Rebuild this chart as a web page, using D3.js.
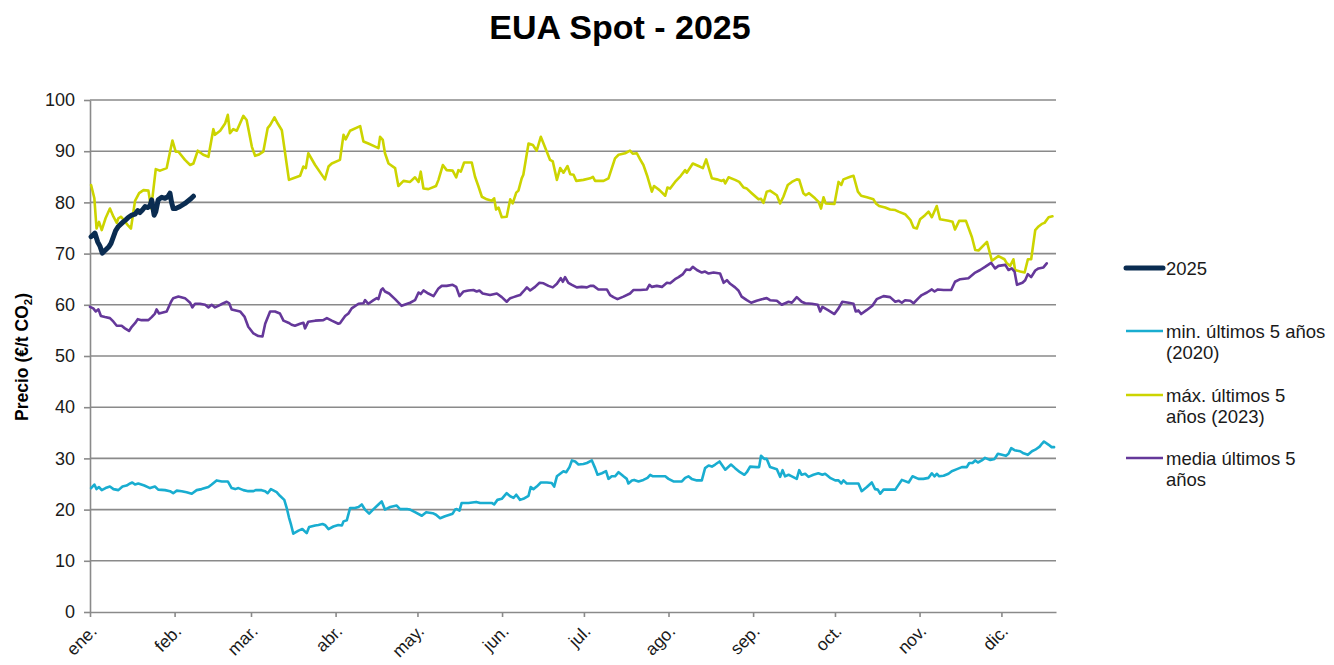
<!DOCTYPE html>
<html>
<head>
<meta charset="utf-8">
<script src="https://cdn.jsdelivr.net/npm/d3@7"></script>
<style>
  body { margin: 0; background: #fff; }
  svg { display: block; font-family: "Liberation Sans", Arial, sans-serif; }
</style>
</head>
<body>
<div id="chart"></div>
<script>
// eje x: día del año (0 = 1 de enero)
const meses = ['ene.', 'feb.', 'mar.', 'abr.', 'may.', 'jun.', 'jul.', 'ago.', 'sep.', 'oct.', 'nov.', 'dic.'];
const inicioMes = [0, 31, 59, 90, 120, 151, 181, 212, 243, 273, 304, 334];
const ticksPrecio = [0, 10, 20, 30, 40, 50, 60, 70, 80, 90, 100];

// 2025
const dias2025 = [0.4, 1.8, 2.8, 3.7, 4.5, 5.5, 7.0, 7.7, 8.6, 9.4, 10.4, 11.4, 12.2, 13.1, 14.1, 15.3, 16.5, 17.5, 18.3, 19.2,
  20.2, 21.1, 22.0, 22.6, 23.5, 24.1, 25.0, 26.3, 27.5, 28.5, 29.3, 29.9, 30.5, 31.4, 33.0, 34.8, 36.7, 37.9];
const precio2025 = [73.3, 74.0, 72.3, 71.4, 70.1, 70.6, 71.4, 72.0, 73.3, 74.5, 75.3, 75.8, 76.2, 76.6, 77.1, 77.5, 77.7, 78.4, 78.0, 78.5,
  79.2, 79.0, 79.3, 80.5, 77.5, 78.2, 80.5, 81.0, 80.8, 81.1, 81.8, 80.0, 78.8, 78.8, 79.2, 79.8, 80.6, 81.2];

// min. últimos 5 años (2020)
const diasMin = [0.4, 1.6, 2.4, 3.3, 4.3, 5.7, 7.3, 8.6, 10.4, 11.9, 13.4, 14.7, 15.5, 16.5, 17.7, 19.9, 22.0, 23.8, 25.0, 27.5,
  29.3, 30.5, 31.8, 33.6, 35.4, 37.3, 39.1, 40.9, 43.4, 44.6, 46.4, 48.3, 50.5, 51.9, 53.2, 54.4, 56.2, 58.0, 59.9, 60.7,
  62.9, 64.2, 65.1, 66.3, 68.4, 69.6, 71.2, 72.1, 72.9, 73.7, 74.5, 76.4, 77.8, 79.4, 80.3, 82.5, 83.7, 85.2, 86.1, 87.4,
  89.2, 91.0, 92.3, 92.9, 94.1, 95.3, 97.1, 98.4, 99.6, 100.8, 102.3, 103.9, 105.7, 106.9, 108.1, 110.0, 112.4, 113.6, 116.1,
  117.3, 119.1, 121.6, 123.2, 125.6, 126.8, 128.3, 130.1, 132.9, 133.8, 134.4, 135.4, 136.2, 138.7, 141.5, 143.0, 147.2, 148.1, 149.3, 150.9,
  152.7, 154.0, 155.2, 156.2, 157.6, 158.8, 160.7, 161.5, 162.5, 163.7, 165.2, 167.4, 169.2, 170.1, 171.1, 172.3, 173.5, 174.5, 175.7, 176.6,
  177.8, 179.0, 180.8, 182.1, 183.9, 185.1, 186.0, 187.6, 189.1, 190.0, 191.2, 192.4, 193.7, 195.5, 196.7, 197.3, 198.6, 199.4, 201.0, 202.8,
  204.3, 205.3, 206.3, 208.3, 210.8, 212.0, 213.8, 216.9, 218.1, 219.3, 220.5, 222.4, 224.2, 225.4, 226.7, 227.9, 229.1, 230.7, 232.8, 234.9,
  236.4, 238.2, 239.8, 240.7, 241.9, 244.3, 245.2, 245.9, 247.2, 248.0, 249.2, 251.7, 252.9, 253.8, 254.7, 256.0, 257.2, 259.0, 259.9, 260.8,
  262.1, 263.3, 265.1, 266.9, 268.4, 269.4, 271.2, 273.1, 274.3, 275.3, 276.1, 277.3, 279.8, 281.6, 282.8, 284.7, 286.5, 287.7, 288.7, 289.6,
  290.8, 295.1, 297.5, 300.0, 301.4, 303.6, 305.4, 307.3, 308.5, 309.5, 310.3, 311.2, 312.8, 314.6, 315.8, 317.7, 319.5, 321.3, 322.2, 323.4,
  324.4, 325.4, 326.8, 328.0, 329.9, 331.5, 332.7, 334.2, 335.6, 336.6, 337.6, 338.8, 340.9, 342.1, 343.7, 345.2, 346.4, 348.0, 348.9, 349.6,
  351.2, 352.4, 353.3];
const precioMin = [24.2, 24.9, 24.0, 24.4, 23.8, 24.2, 24.5, 24.0, 23.8, 24.5, 24.7, 25.1, 25.3, 24.9, 25.1, 24.7, 24.2, 24.5, 23.9, 23.8,
  23.6, 23.2, 23.7, 23.6, 23.4, 23.1, 23.8, 24.0, 24.4, 24.9, 25.7, 25.5, 25.5, 24.2, 24.0, 24.2, 23.8, 23.6, 23.6, 23.8,
  23.8, 23.6, 23.2, 24.0, 23.4, 22.7, 21.9, 20.3, 18.5, 17.0, 15.3, 15.9, 16.2, 15.4, 16.6, 16.9, 17.0, 17.2, 17.0, 16.2,
  16.7, 17.0, 16.9, 17.7, 17.9, 20.3, 20.3, 20.5, 21.0, 20.0, 19.2, 20.1, 21.0, 21.6, 20.0, 20.5, 20.8, 20.1, 20.1,
  20.0, 19.5, 18.8, 19.5, 19.3, 19.0, 18.3, 18.7, 19.2, 20.0, 20.1, 19.8, 21.3, 21.3, 21.5, 21.3, 21.3, 21.0, 21.9, 22.1,
  23.2, 22.6, 22.3, 22.9, 21.9, 22.1, 22.7, 24.4, 24.0, 24.5, 25.3, 25.3, 25.2, 24.5, 26.5, 27.0, 27.5, 27.3, 28.3, 29.6,
  29.4, 28.8, 28.9, 29.1, 29.6, 28.1, 26.8, 27.1, 27.5, 26.0, 26.5, 26.5, 27.3, 26.5, 26.0, 25.1, 25.7, 25.8, 25.5, 25.8,
  26.2, 26.8, 26.5, 26.5, 26.5, 26.0, 25.5, 25.5, 26.2, 26.5, 26.0, 25.7, 25.7, 28.1, 28.6, 28.4, 28.8, 29.4, 27.8, 28.8,
  28.1, 27.3, 26.8, 27.3, 28.4, 28.3, 28.3, 30.5, 29.9, 29.9, 28.3, 27.9, 26.4, 27.7, 26.5, 26.8, 26.5, 26.0, 27.7, 26.8,
  27.0, 26.4, 26.8, 27.1, 26.8, 27.0, 26.2, 25.7, 25.7, 25.1, 25.7, 25.1, 25.1, 25.1, 23.6, 24.4, 25.3, 24.0, 23.9, 23.1,
  23.9, 23.9, 25.8, 25.3, 26.5, 26.0, 26.0, 26.2, 27.1, 26.5, 27.0, 26.5, 26.6, 27.0, 27.5, 27.9, 28.3, 28.3, 29.1, 29.1,
  29.6, 29.2, 29.6, 30.1, 29.7, 29.9, 30.9, 30.7, 30.5, 30.9, 32.0, 31.6, 31.4, 31.0, 30.7, 31.4, 31.7, 32.3, 32.9, 33.3,
  32.7, 32.2, 32.2];

// máx. últimos 5 años (2023)
const diasMax = [0.4, 1.6, 2.4, 3.3, 4.3, 5.7, 7.3, 8.6, 9.8, 10.4, 11.4, 12.6, 14.1, 15.0, 16.5, 18.0, 19.6, 21.4, 22.4, 24.1,
  25.7, 28.1, 30.2, 31.4, 32.4, 34.8, 36.7, 37.9, 39.5, 41.5, 43.4, 45.2, 45.8, 47.7, 49.5, 50.5, 51.3, 52.5, 53.8, 56.2,
  57.4, 59.3, 60.5, 61.7, 63.5, 65.1, 66.0, 67.6, 68.8, 70.3, 72.9, 74.5, 77.0, 78.2, 79.1, 80.0, 82.5, 86.1, 87.4, 88.6,
  91.6, 92.9, 93.7, 95.3, 99.0, 100.2, 102.0, 104.5, 105.7, 106.3, 107.3, 108.1, 109.4, 111.8, 113.0, 114.9,
  117.3, 119.1, 120.4, 121.2, 122.2, 124.0, 126.8, 127.7, 129.3, 130.7, 132.9, 134.2, 135.0, 135.9, 137.1, 139.9, 141.1, 142.3, 143.6, 145.4,
  147.2, 148.1, 148.8, 149.7, 150.9, 152.7, 154.0, 154.9, 156.2, 157.0, 158.2, 158.8, 160.7, 162.3, 163.7, 165.2, 166.2, 167.4, 168.6, 169.6,
  171.1, 172.3, 173.5, 175.0, 176.0, 177.2, 178.2, 180.8, 183.3, 184.3, 185.1, 188.2, 190.0, 192.4, 193.7, 196.1, 197.9, 198.9, 200.4, 201.6,
  202.8, 204.3, 205.9, 206.7, 208.7, 210.8, 211.6, 212.6, 214.4, 216.5, 218.1, 218.7, 220.9, 223.0, 224.6, 225.8, 227.9, 229.7, 231.5, 232.2,
  232.8, 234.0,
  236.4, 237.9, 239.5, 240.7, 242.5, 245.0, 245.9, 246.8, 248.0, 249.2, 251.7, 252.9, 254.1, 255.7, 257.2, 259.0, 259.9, 261.4, 262.3, 263.5,
  265.7, 267.0, 267.9, 268.8, 269.6, 272.8, 274.3, 275.3, 276.1, 278.6, 279.8, 281.4, 282.6, 284.7, 287.1, 288.0, 289.2, 291.4, 293.2, 295.1,
  296.3, 298.7, 300.6, 301.8, 303.0, 304.2, 306.0, 307.3, 308.5, 310.3, 311.5, 314.6, 316.1, 317.0, 318.5, 321.0, 323.2, 324.4, 325.6, 328.7,
  330.5, 332.9, 335.1, 336.0, 337.2, 338.4, 339.0, 340.9, 342.5, 343.7, 344.9, 346.4, 347.6, 348.8, 349.8, 351.3, 352.7];
const precioMax = [83.4, 80.8, 74.9, 76.2, 74.6, 76.9, 78.8, 77.2, 76.0, 76.9, 77.2, 76.4, 75.4, 74.9, 80.3, 81.8, 82.4, 82.3, 78.8, 86.5,
  86.2, 86.7, 92.1, 89.9, 89.9, 88.3, 87.3, 87.6, 90.1, 89.3, 88.9, 94.3, 93.2, 94.0, 95.4, 97.1, 93.5, 94.3, 94.0, 96.9,
  96.1, 90.9, 89.1, 89.3, 89.9, 94.5, 95.1, 96.6, 95.4, 94.1, 84.4, 84.7, 85.2, 87.0, 86.7, 89.6, 87.3, 84.5, 87.0, 87.6,
  88.3, 93.2, 92.3, 94.0, 94.9, 91.9, 91.5, 90.9, 90.6, 92.8, 92.2, 89.6, 87.6, 86.7, 83.2, 84.2,
  84.0, 84.9, 84.0, 86.0, 82.7, 82.6, 83.2, 84.4, 87.3, 86.3, 86.2, 84.9, 86.3, 86.0, 87.8, 87.8, 85.0, 83.2, 81.1, 80.6,
  80.3, 80.8, 78.6, 79.0, 77.1, 77.2, 80.6, 79.8, 81.9, 82.3, 84.7, 85.4, 91.5, 91.2, 90.1, 92.8, 91.5, 89.9, 88.3, 88.0,
  84.4, 86.7, 85.8, 87.1, 85.5, 85.4, 84.2, 84.4, 84.7, 85.0, 84.2, 84.2, 84.7, 88.6, 89.3, 89.6, 90.1, 89.5, 89.6, 88.4,
  87.3, 85.0, 82.1, 83.2, 82.4, 81.3, 82.9, 82.7, 84.0, 85.2, 86.3, 85.8, 87.6, 87.1, 86.7, 88.4, 84.7, 84.5, 84.2, 84.4,
  83.7, 84.9,
  84.4, 84.0, 82.9, 82.7, 81.8, 80.6, 80.7, 79.9, 82.1, 82.3, 81.4, 79.8, 81.1, 83.4, 84.0, 84.5, 84.4, 81.8, 81.4, 81.8,
  80.8, 80.1, 78.8, 81.0, 79.8, 79.7, 84.0, 83.4, 84.5, 85.0, 85.2, 82.1, 81.3, 81.0, 80.6, 79.8, 79.3, 79.0, 78.6, 78.5,
  78.2, 77.7, 76.6, 75.1, 74.9, 76.7, 77.5, 78.2, 77.1, 79.3, 76.7, 76.4, 76.2, 74.7, 76.4, 76.4, 73.2, 70.7, 70.6, 72.3,
  68.6, 69.5, 68.9, 68.1, 67.6, 68.9, 66.8, 66.5, 66.3, 68.9, 68.9, 74.6, 75.3, 75.8, 76.0, 77.1, 77.3];

// media últimos 5 años
const diasMedia = [0, 1.2, 2.1, 3.1, 4.0, 5.5, 7.3, 8.6, 9.8, 11.6, 12.8, 14.3, 15.3, 16.5, 17.5, 18.9, 21.4, 22.6, 23.8, 24.4,
  25.3, 28.1, 29.7, 30.5, 32.4, 34.8, 36.7, 37.5, 38.5, 40.3, 42.2, 43.4, 44.6, 45.8, 47.0, 48.5, 50.1, 51.0, 51.9, 55.0,
  56.6, 58.0, 59.9, 61.7, 63.2, 64.2, 66.0, 67.8, 69.6, 70.9, 72.7, 73.9, 75.1, 77.0, 78.2, 78.8, 80.0, 82.5, 85.5, 86.8,
  88.6, 91.0, 91.6, 93.5, 94.7, 95.9, 98.4, 100.2, 100.8, 102.0, 103.9, 105.1, 105.7, 106.7, 107.3, 108.1, 109.6, 111.8, 114.2,
  117.3, 119.1, 120.4, 121.2, 122.2, 124.0, 125.9, 127.7, 128.9, 130.7, 132.9, 134.2, 135.4, 136.9, 138.7, 140.5, 141.7, 142.7, 143.9, 146.6,
  149.1, 150.9, 152.7, 154.0, 155.2, 156.4, 157.6, 158.8, 160.1, 161.3, 163.1, 164.7, 166.2, 168.0, 169.6, 171.1, 172.5, 173.3, 174.1, 175.3,
  176.6, 178.4, 180.2, 182.1, 183.3, 184.5, 186.3, 188.2, 189.4, 190.6, 191.8, 193.3, 195.5, 197.9, 199.2, 201.6, 204.1, 205.0, 205.9, 207.7,
  209.6, 211.4, 212.6, 214.4, 215.7, 217.3, 218.5, 219.9, 220.9, 222.4, 224.2, 225.4, 226.7, 228.5, 230.9, 232.2, 233.4, 234.6,
  236.4, 237.6, 238.8, 240.7, 242.3, 244.3, 246.2, 248.0, 249.2, 251.7, 253.5, 256.0, 257.2, 259.0, 260.8, 262.1, 264.5, 266.7, 267.6, 268.4,
  270.6, 272.8, 274.3, 275.7, 278.0, 279.8, 280.6, 281.6, 282.6, 284.7, 286.7, 288.3, 290.8, 293.2, 295.1, 296.3, 297.5, 298.7, 300.6, 301.8,
  303.6, 304.8, 306.7, 308.5, 309.5, 310.7, 312.8, 315.6, 317.0, 318.9, 321.9, 324.4, 326.2, 328.0, 330.2, 331.7, 332.9, 335.4, 336.6, 337.8,
  338.8, 339.7, 341.7, 342.7, 343.7, 344.9, 346.4, 347.6, 349.4, 350.6];
const precioMedia = [59.6, 59.3, 58.7, 59.1, 57.8, 57.6, 57.4, 56.7, 55.9, 55.9, 55.4, 54.9, 55.7, 56.4, 57.2, 57.0, 57.0, 57.6, 58.3, 59.1,
  58.3, 58.7, 60.6, 61.3, 61.6, 61.3, 60.4, 59.5, 60.2, 60.2, 60.0, 59.5, 60.0, 59.5, 59.8, 60.2, 60.6, 60.3, 59.1, 58.7,
  57.7, 55.7, 54.4, 53.9, 53.8, 56.3, 58.7, 58.7, 58.3, 56.9, 56.5, 56.1, 55.9, 56.3, 56.5, 55.4, 56.7, 56.9, 57.0, 57.4,
  56.9, 56.3, 56.4, 57.8, 58.3, 59.3, 60.2, 60.3, 60.9, 60.2, 60.9, 61.3, 61.1, 62.9, 63.2, 62.6, 62.2, 61.1, 59.8,
  60.4, 60.9, 62.4, 62.1, 62.8, 62.2, 61.7, 63.2, 63.7, 63.7, 63.9, 63.5, 61.7, 62.6, 62.8, 62.9, 62.6, 62.8, 62.2, 61.9,
  62.2, 61.5, 60.6, 61.3, 61.5, 61.7, 61.9, 62.6, 63.4, 62.8, 63.5, 64.3, 64.2, 63.7, 63.4, 64.1, 65.2, 64.5, 65.4, 64.3,
  63.9, 63.4, 63.5, 63.4, 63.7, 63.7, 63.0, 63.0, 63.0, 61.9, 61.5, 61.1, 61.6, 62.2, 62.9, 62.9, 63.0, 63.9, 63.5, 63.7,
  63.5, 64.3, 64.2, 65.0, 65.4, 66.0, 66.9, 66.8, 67.4, 66.8, 66.3, 66.5, 66.1, 66.3, 66.1, 64.3, 64.8, 64.1,
  63.4, 62.8, 61.6, 60.9, 60.4, 60.8, 61.1, 61.3, 60.9, 60.8, 60.0, 60.6, 60.4, 61.5, 60.6, 60.3, 60.2, 60.0, 58.7, 59.6,
  58.9, 58.2, 59.3, 60.6, 60.4, 60.2, 58.7, 58.9, 58.2, 59.0, 59.8, 61.1, 61.7, 61.5, 60.6, 60.8, 60.4, 60.9, 60.8, 60.3,
  61.3, 61.9, 62.4, 63.0, 62.6, 63.0, 62.9, 62.9, 64.5, 65.0, 65.2, 66.3, 66.8, 67.4, 68.2, 67.1, 67.6, 67.8, 66.8, 67.1,
  66.5, 63.9, 64.3, 64.8, 66.0, 65.4, 66.7, 67.1, 67.3, 68.1];

const series = [
  {nombre: ['máx. últimos 5', 'años (2023)'], dias: diasMax, precios: precioMax, color: '#ccd400', grosor: 2.6},
  {nombre: ['media últimos 5', 'años'], dias: diasMedia, precios: precioMedia, color: '#65389a', grosor: 2.6},
  {nombre: ['min. últimos 5 años', '(2020)'], dias: diasMin, precios: precioMin, color: '#19add0', grosor: 2.6},
  {nombre: ['2025'], dias: dias2025, precios: precio2025, color: '#0a2c51', grosor: 5}
];
const ordenLeyenda = [3, 2, 0, 1];

const width = 1334;
const height = 665;
const margin = {top: 100, right: 278, bottom: 53, left: 90};

const x = d3.scaleLinear()
  .domain([0, 354])
  .range([margin.left, width - margin.right]);

const y = d3.scaleLinear()
  .domain([0, 100])
  .range([height - margin.bottom, margin.top]);

const svg = d3.select('#chart').append('svg')
  .attr('width', width)
  .attr('height', height);

// titulo
svg.append('text')
  .attr('x', 620)
  .attr('y', 39)
  .attr('text-anchor', 'middle')
  .attr('font-size', 34)
  .attr('font-weight', 'bold')
  .attr('fill', '#000')
  .text('EUA Spot - 2025');

// rejilla
svg.append('g')
  .selectAll('line')
  .data(ticksPrecio.filter(d => d > 0))
  .join('line')
  .attr('x1', x(0))
  .attr('x2', x(354))
  .attr('y1', d => y(d))
  .attr('y2', d => y(d))
  .attr('stroke', '#8a8a8a')
  .attr('stroke-width', 1.6);

// eje y
svg.append('g')
  .attr('transform', `translate(${x(0)},0)`)
  .call(d3.axisLeft(y).tickValues(ticksPrecio).tickSize(6).tickSizeOuter(0))
  .call(g => g.select('.domain').attr('stroke', '#8a8a8a').attr('stroke-width', 1.6))
  .call(g => g.selectAll('.tick line').attr('stroke', '#8a8a8a').attr('stroke-width', 1.6))
  .call(g => g.selectAll('.tick text')
    .attr('x', -15)
    .attr('font-size', 18)
    .attr('font-family', '"Liberation Sans", Arial, sans-serif')
    .attr('fill', '#1a1a1a'));

// eje x
svg.append('g')
  .attr('transform', `translate(0,${y(0)})`)
  .call(d3.axisBottom(x).tickValues(inicioMes).tickFormat((d, i) => meses[i]).tickSize(5).tickSizeOuter(0))
  .call(g => g.select('.domain').attr('stroke', '#8a8a8a').attr('stroke-width', 1.6))
  .call(g => g.selectAll('.tick line').attr('stroke', '#8a8a8a').attr('stroke-width', 1.6))
  .call(g => g.selectAll('.tick text')
    .attr('x', 0)
    .attr('y', 0)
    .attr('dy', '0.35em')
    .attr('transform', 'translate(3,16) rotate(-45)')
    .attr('text-anchor', 'end')
    .attr('font-size', 17.5)
    .attr('font-family', '"Liberation Sans", Arial, sans-serif')
    .attr('fill', '#1a1a1a'));

// titulo eje y
const tituloY = svg.append('text')
  .attr('transform', 'translate(28,357) rotate(-90)')
  .attr('text-anchor', 'middle')
  .attr('font-size', 17.5)
  .attr('font-weight', 'bold')
  .attr('fill', '#000');
tituloY.append('tspan').text('Precio (€/t CO');
tituloY.append('tspan').attr('font-size', 11.5).attr('dy', 4).text('2');
tituloY.append('tspan').attr('dy', -4).text(')');

// lineas
const line = d3.line()
  .x(d => x(d.dia))
  .y(d => y(d.precio))
  .curve(d3.curveLinear);

svg.append('g')
  .selectAll('path')
  .data(series)
  .join('path')
  .attr('d', s => line(s.dias.map((d, i) => ({dia: d, precio: s.precios[i]}))))
  .attr('fill', 'none')
  .attr('stroke', s => s.color)
  .attr('stroke-width', s => s.grosor)
  .attr('stroke-linejoin', 'round')
  .attr('stroke-linecap', 'round');

// leyenda
const posLeyenda = [268, 331, 395, 458];
const leyenda = svg.append('g')
  .selectAll('g')
  .data(ordenLeyenda.map(i => series[i]))
  .join('g')
  .attr('transform', (d, i) => `translate(1125,${posLeyenda[i]})`);

leyenda.append('line')
  .attr('x1', 1)
  .attr('x2', 38)
  .attr('stroke', d => d.color)
  .attr('stroke-width', d => d.grosor)
  .attr('stroke-linecap', d => d.grosor > 3 ? 'round' : 'butt');

leyenda.append('text')
  .attr('x', 41)
  .attr('y', 7)
  .attr('font-size', 18.5)
  .attr('fill', '#1a1a1a')
  .selectAll('tspan')
  .data(d => d.nombre)
  .join('tspan')
  .attr('x', 41)
  .attr('dy', (d, i) => i === 0 ? 0 : 21)
  .text(d => d);
</script>
</body>
</html>
